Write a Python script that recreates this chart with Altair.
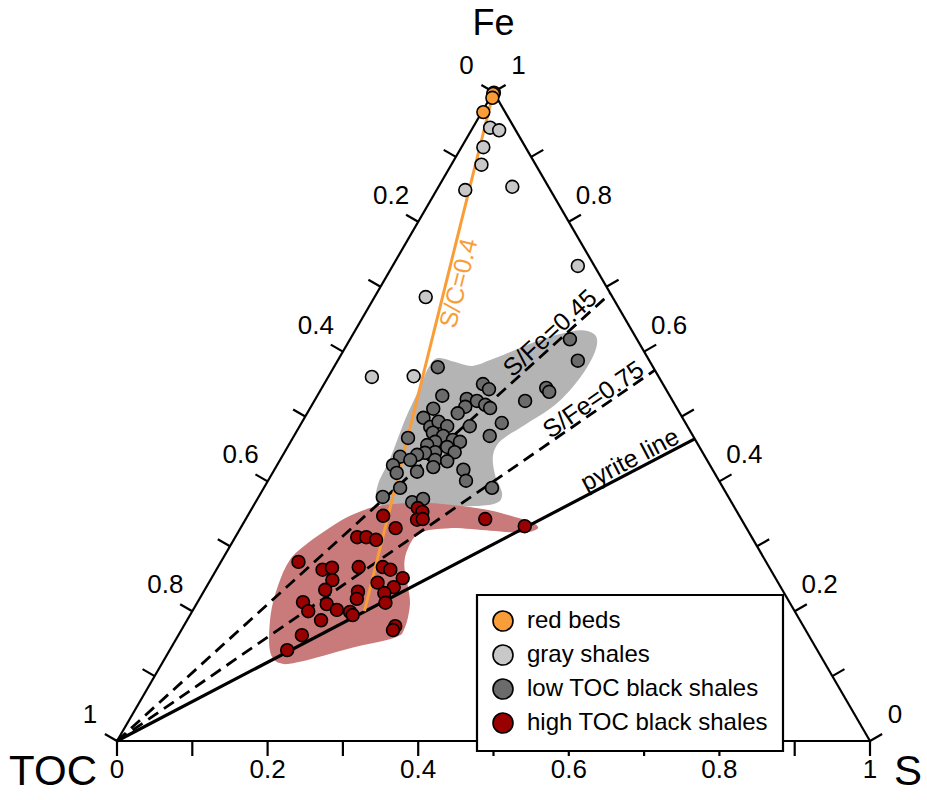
import altair as alt
import pandas as pd
import numpy as np

# ---------------- data (mass fractions; TOC = 1 - S - Fe) ----------------
red_beds_S = [0.001, 0.003, 0.002]
red_beds_Fe = [0.997, 0.991, 0.969]

gray_S = [0.023, 0.037, 0.029, 0.040, 0.038, 0.098, 0.068, 0.058, 0.113, 0.246]
gray_Fe = [0.945, 0.941, 0.915, 0.888, 0.849, 0.854, 0.684, 0.561, 0.562, 0.732]

lowtoc_S = [0.001, 0.138, 0.211, 0.223, 0.166, 0.201, 0.216, 0.205, 0.230, 0.239,
            0.164, 0.200, 0.280, 0.298, 0.305, 0.292, 0.319, 0.266, 0.226, 0.158,
            0.174, 0.181, 0.196, 0.182, 0.198, 0.214, 0.225, 0.192, 0.260, 0.184,
            0.212, 0.226, 0.153, 0.200, 0.187, 0.178, 0.157, 0.173, 0.154, 0.206,
            0.223, 0.165, 0.191, 0.209, 0.251, 0.263, 0.181, 0.165, 0.303, 0.208,
            0.220]
lowtoc_Fe = [0.999, 0.576, 0.550, 0.542, 0.532, 0.527, 0.524, 0.515, 0.518, 0.513,
             0.512, 0.505, 0.524, 0.544, 0.538, 0.619, 0.586, 0.490, 0.485, 0.498,
             0.484, 0.492, 0.485, 0.475, 0.470, 0.464, 0.461, 0.461, 0.470, 0.456,
             0.453, 0.445, 0.467, 0.445, 0.444, 0.441, 0.438, 0.433, 0.425, 0.433,
             0.431, 0.413, 0.415, 0.422, 0.418, 0.401, 0.390, 0.376, 0.390, 0.368,
             0.373]

hightoc_S = [0.180, 0.220, 0.229, 0.228, 0.235, 0.318, 0.376, 0.206, 0.162, 0.174,
             0.189, 0.103, 0.141, 0.152, 0.187, 0.219, 0.231, 0.162, 0.254, 0.224,
             0.160, 0.205, 0.249, 0.241, 0.140, 0.209, 0.173, 0.154, 0.191, 0.210,
             0.250, 0.178, 0.216, 0.281, 0.281, 0.164, 0.156]
hightoc_Fe = [0.347, 0.359, 0.353, 0.341, 0.342, 0.342, 0.331, 0.328, 0.314, 0.314,
              0.310, 0.276, 0.264, 0.267, 0.268, 0.268, 0.264, 0.248, 0.251, 0.244,
              0.233, 0.230, 0.237, 0.228, 0.214, 0.219, 0.211, 0.200, 0.202, 0.199,
              0.213, 0.186, 0.194, 0.177, 0.171, 0.163, 0.140]

# outlines of the shaded fields
gray_field_S = [0.131, 0.157, 0.183, 0.202, 0.222, 0.248, 0.275, 0.301, 0.324, 0.335,
                0.335, 0.323, 0.298, 0.279, 0.279, 0.297, 0.322, 0.314, 0.249, 0.190,
                0.162, 0.149, 0.145, 0.135, 0.130, 0.126]
gray_field_Fe = [0.590, 0.584, 0.578, 0.587, 0.599, 0.615, 0.627, 0.633, 0.624, 0.599,
                 0.559, 0.518, 0.487, 0.464, 0.441, 0.410, 0.379, 0.364, 0.361, 0.359,
                 0.367, 0.395, 0.436, 0.495, 0.544, 0.575]
red_field_S = [0.136, 0.166, 0.215, 0.260, 0.315, 0.356, 0.385, 0.395, 0.378, 0.334,
               0.278, 0.242, 0.238, 0.246, 0.266, 0.284, 0.295, 0.289, 0.238, 0.182,
               0.156, 0.133, 0.107, 0.094, 0.090, 0.101, 0.117]
red_field_Fe = [0.347, 0.362, 0.367, 0.364, 0.356, 0.345, 0.336, 0.327, 0.321, 0.324,
                0.328, 0.321, 0.297, 0.271, 0.240, 0.210, 0.174, 0.159, 0.143, 0.122,
                0.120, 0.140, 0.194, 0.240, 0.279, 0.305, 0.327]

# reference ratios
pyrite_S_Fe = 2 * 32.06 / 55.845      # FeS2
dashed_S_Fe = [0.45, 0.75]
S_C_ratio = 0.4
S_C_Fe_end = 0.2

groups = ["red beds", "gray shales", "low TOC black shales", "high TOC black shales"]
colors = ["#F99D38", "#C8C8C8", "#6B6B6B", "#990000"]

tick_values = [i / 10 for i in range(11)]
label_values = [0, 0.2, 0.4, 0.6, 0.8, 1]

# ---------------- layout ----------------
W, H = 927, 800
PX_X, PX_Y = 753.0, 649.0   # pixels per unit along base / per unit Fe
X0, Y0 = 117.0, 741.0       # pixel position of TOC apex
FONT = "Liberation Sans"

xscale = alt.Scale(domain=[-X0 / PX_X, (W - X0) / PX_X], nice=False, zero=False)
yscale = alt.Scale(domain=[-(H - Y0) / PX_Y, Y0 / PX_Y], nice=False, zero=False)


def cart(S, Fe):
    S = np.asarray(S, float)
    Fe = np.asarray(Fe, float)
    return S + Fe / 2.0, Fe


def XY():
    return dict(x=alt.X("x:Q", scale=xscale, axis=None),
                y=alt.Y("y:Q", scale=yscale, axis=None))


def XY2():
    d = XY()
    d.update(x2="x2:Q", y2="y2:Q")
    return d


def seg_df(S1, Fe1, S2, Fe2):
    x1, y1 = cart(S1, Fe1)
    x2, y2 = cart(S2, Fe2)
    return pd.DataFrame({"x": np.atleast_1d(x1), "y": np.atleast_1d(y1),
                         "x2": np.atleast_1d(x2), "y2": np.atleast_1d(y2)})


def blob(S, Fe, color):
    x, y = cart(S, Fe)
    df = pd.DataFrame({"x": x, "y": y, "i": np.arange(len(x))})
    return alt.Chart(df).mark_line(fill=color, stroke=color, strokeWidth=0,
                                   strokeOpacity=0, interpolate="cardinal-closed").encode(
        order="i:Q", **XY())


layers = []
layers.append(blob(gray_field_S, gray_field_Fe, "#B4B4B4"))
layers.append(blob(red_field_S, red_field_Fe, "#C97A7A"))

# ratio lines from the TOC apex to the S-Fe edge
def ratio_end(r):
    return r / (1 + r), 1 / (1 + r)

dS, dFe = zip(*[ratio_end(r) for r in dashed_S_Fe])
layers.append(alt.Chart(seg_df([0, 0], [0, 0], dS, dFe)).mark_rule(
    color="black", strokeWidth=2.8, strokeDash=[12, 7]).encode(**XY2()))
pS, pFe = ratio_end(pyrite_S_Fe)
layers.append(alt.Chart(seg_df([0], [0], [pS], [pFe])).mark_rule(
    color="black", strokeWidth=3.2).encode(**XY2()))
# S/C line from the Fe apex
sc_S_end = S_C_ratio / (1 + S_C_ratio) * (1 - S_C_Fe_end)
layers.append(alt.Chart(seg_df([0], [1], [sc_S_end], [S_C_Fe_end])).mark_rule(
    color="#F99D38", strokeWidth=3).encode(**XY2()))

# triangle
layers.append(alt.Chart(seg_df([0, 1, 0], [0, 0, 1], [1, 0, 0], [0, 1, 0])).mark_rule(
    color="black", strokeWidth=2.2).encode(**XY2()))

# ticks
tv = np.array(tick_values)
tl = 14.0
left = seg_df(np.zeros_like(tv), 1 - tv, np.zeros_like(tv), 1 - tv)
left["x2"] = left["x"] - tl * np.cos(np.radians(30)) / PX_X
left["y2"] = left["y"] + tl * np.sin(np.radians(30)) / PX_Y
right = seg_df(1 - tv, tv, 1 - tv, tv)
right["x2"] = right["x"] + tl * np.cos(np.radians(30)) / PX_X
right["y2"] = right["y"] + tl * np.sin(np.radians(30)) / PX_Y
bottom = seg_df(tv, np.zeros_like(tv), tv, np.zeros_like(tv))
bottom["y2"] = bottom["y"] - 15.0 / PX_Y
ticks = pd.concat([left, right, bottom], ignore_index=True)
layers.append(alt.Chart(ticks).mark_rule(color="black", strokeWidth=2.2).encode(**XY2()))

# points
frames = []
for g, S, Fe in [("gray shales", gray_S, gray_Fe),
                 ("low TOC black shales", lowtoc_S, lowtoc_Fe),
                 ("high TOC black shales", hightoc_S, hightoc_Fe),
                 ("red beds", red_beds_S, red_beds_Fe)]:
    x, y = cart(S, Fe)
    frames.append(pd.DataFrame({"x": x, "y": y, "group": g}))
pts = pd.concat(frames, ignore_index=True)
pts["i"] = np.arange(len(pts))
layers.append(alt.Chart(pts).mark_circle(size=165, stroke="black", strokeWidth=1.6,
                                         opacity=1).encode(
    color=alt.Color("group:N", scale=alt.Scale(domain=groups, range=colors),
                    legend=alt.Legend(title=None)),
    order="i:Q", **XY()))

# tick labels
lv = np.array(label_values, float)
lab = [f"{v:g}" for v in label_values]
lx, ly = cart(np.zeros_like(lv), 1 - lv)
rx, ry = cart(1 - lv, lv)
bx, by = cart(lv, np.zeros_like(lv))
for xs, ys, dx, dy in [(lx, ly, -27, -26), (rx, ry, 25, -26), (bx, by, 0, 29)]:
    df = pd.DataFrame({"x": xs, "y": ys, "t": lab})
    layers.append(alt.Chart(df).mark_text(font=FONT, fontSize=26, dx=dx, dy=dy,
                                          align="center", baseline="middle",
                                          color="black").encode(text="t:N", **XY()))

# apex titles
for name, S, Fe, dx, dy, al, fs in [("Fe", 0, 1, 0, -68, "center", 36),
                                    ("TOC", 0, 0, -20, 31, "right", 42),
                                    ("S", 1, 0, 24, 31, "left", 42)]:
    x, y = cart([S], [Fe])
    df = pd.DataFrame({"x": x, "y": y, "t": [name]})
    layers.append(alt.Chart(df).mark_text(font=FONT, fontSize=fs, dx=dx, dy=dy, align=al,
                                          baseline="middle", color="black").encode(
        text="t:N", **XY()))

# line labels
def screen_angle(S, Fe):
    x, y = cart(S, Fe)
    a = np.degrees(np.arctan2(-float(y) * PX_Y, float(x) * PX_X))
    return a % 360

line_labels = [("S/Fe=0.45", 0.45, 0.893, -11), ("S/Fe=0.75", 0.75, 0.897, -10.5),
               ("pyrite line", pyrite_S_Fe, 0.897, -11.5)]
for txt, r, t, dy in line_labels:
    eS, eFe = ratio_end(r)
    x, y = cart([eS * t], [eFe * t])
    df = pd.DataFrame({"x": x, "y": y, "t": [txt]})
    layers.append(alt.Chart(df).mark_text(font=FONT, fontSize=25, dy=dy, align="center",
                                          baseline="middle", color="black",
                                          angle=float(screen_angle(eS, eFe))).encode(
        text="t:N", **XY()))

sc_Fe_lab = 0.71
sc_S_lab = S_C_ratio / (1 + S_C_ratio) * (1 - sc_Fe_lab)
x, y = cart([sc_S_lab], [sc_Fe_lab])
sc_ang = np.degrees(np.arctan2(-1.0 * PX_Y, (S_C_ratio / (1 + S_C_ratio) - 0.5) * -PX_X)) % 360
df = pd.DataFrame({"x": x, "y": y, "t": ["S/C=0.4"]})
layers.append(alt.Chart(df).mark_text(font=FONT, fontSize=25, dy=12.5, align="center",
                                      baseline="middle", color="#F99D38",
                                      angle=float(sc_ang)).encode(text="t:N", **XY()))

chart = alt.layer(*layers).properties(
    width=W, height=H, padding=0, autosize=alt.AutoSizeParams(type="none"),
    background="white"
).configure_view(strokeWidth=0).configure_legend(
    orient="none", legendX=477, legendY=595, padding=14, strokeColor="black",
    strokeWidth=2.2, fillColor="white", labelFont=FONT, labelFontSize=24, labelLimit=600,
    rowPadding=6, labelOffset=12, symbolSize=400, symbolStrokeColor="black",
    symbolStrokeWidth=1.6, symbolType="circle", symbolOpacity=1, labelColor="black"
)

chart.save("out.html", embed_options={"renderer": "svg", "actions": False})
